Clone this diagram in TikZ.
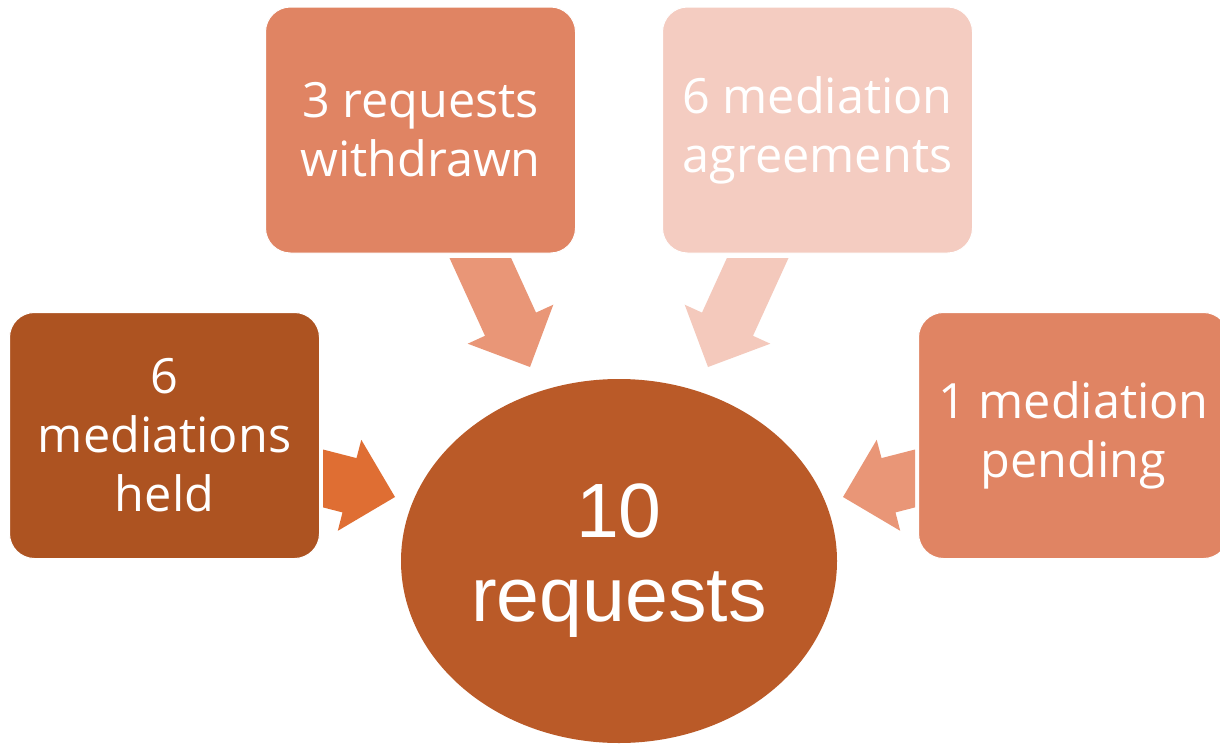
\documentclass[tikz,border=0pt]{standalone}
\usepackage{fontspec}
\setmainfont{Open Sans}
\newfontfamily\centrefont{Liberation Sans}
\usetikzlibrary{shapes.geometric}
\definecolor{heldbrown}{HTML}{AD5321}
\definecolor{midorange}{HTML}{E08463}
\definecolor{palepink}{HTML}{F4CCC1}
\definecolor{centrerust}{HTML}{BA5A28}
\definecolor{heldarrow}{HTML}{DF6E33}
\definecolor{midarrow}{HTML}{E99677}
\definecolor{palearrow}{HTML}{F4C9BC}
\tikzstyle{outcome}=[rectangle, rounded corners=12.5pt, draw=white, line width=0.5pt, minimum width=155pt, minimum height=123pt, inner sep=0pt, align=center, text=white, font=\fontsize{24.3}{29.5}\selectfont]
\tikzstyle{total}=[ellipse, fill=centrerust, minimum width=218pt, minimum height=182pt, inner sep=0pt, align=center, text=white, font=\centrefont\fontsize{38.5}{42}\selectfont]
\begin{document}
\begin{tikzpicture}[x=0.5pt, y=-0.5pt]
                    \useasboundingbox (0,0) rectangle (1220,744);
                    \fill[white] (0,0) rectangle (1220,744);
                    \node[total] (requests) at (619, 561) {10\\requests};
                    \node[outcome, fill=heldbrown] (held) at (164.5, 435.5) {6\\mediations\\held};
                    \node[outcome, fill=midorange] (withdrawn) at (420.5, 130) {3 requests\\withdrawn};
                    \node[outcome, fill=palepink] (agreements) at (817.5, 130) {6 mediation\\agreements};
                    \node[outcome, fill=midorange] (pending) at (1073.5, 435.5) {1 mediation\\pending};
                    \fill[heldarrow] (323, 449.5) -- (356.5, 458.1) -- (361.3, 439.8) -- (395, 497)
                        -- (337.8, 530.8) -- (342.5, 512.4) -- (323, 507.4) -- cycle;
                    \fill[midarrow]  (449.5, 258) -- (511.1, 258) -- (536, 312.6) -- (553.3, 304.7)
                        -- (530, 367) -- (467.7, 343.7) -- (485, 335.8) -- cycle;
                    \fill[palearrow] (788.5, 258) -- (726.9, 258) -- (702, 312.6) -- (684.7, 304.7)
                        -- (708, 367) -- (770.3, 343.7) -- (753, 335.8) -- cycle;
                    \fill[midarrow]  (915, 449.5) -- (881.5, 458.1) -- (876.7, 439.8) -- (843, 497)
                        -- (900.2, 530.8) -- (895.5, 512.4) -- (915, 507.4) -- cycle;
                \end{tikzpicture}
\end{document}
